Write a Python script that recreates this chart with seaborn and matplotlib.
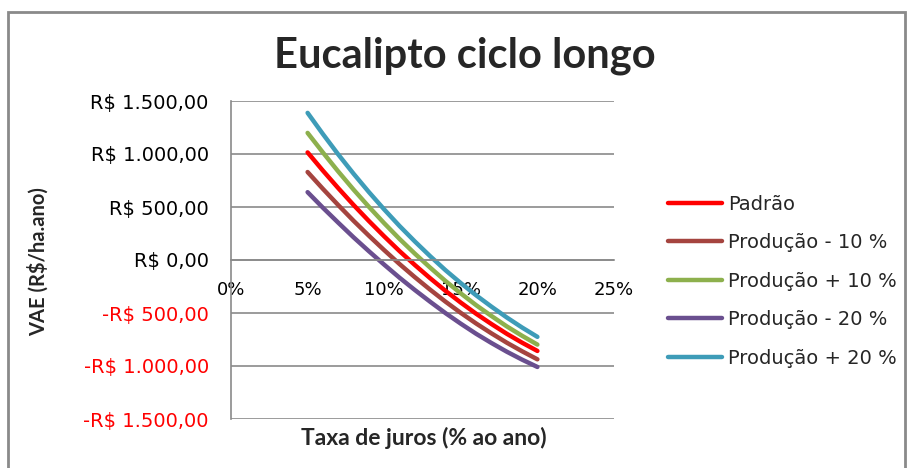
import matplotlib
matplotlib.use("Agg")
import matplotlib.pyplot as plt
from matplotlib.patches import Rectangle
from matplotlib.ticker import FuncFormatter, MultipleLocator
import pandas as pd
import seaborn as sns

# Interest rate (% per year) and annual equivalent value (R$/ha.ano) per scenario
taxa = [5, 6, 7, 8, 9, 10, 11, 12, 13, 14, 15, 16, 17, 18, 19, 20]
padrao = [1015, 843, 678, 519, 368, 223, 84, -47, -172, -291, -402, -507, -604, -696, -780, -858]
prod_menos_10 = [830, 671, 518, 370, 229, 93, -38, -162, -280, -393, -499, -599, -692, -780, -861, -937]
prod_mais_10 = [1199, 1014, 835, 664, 502, 347, 199, 60, -72, -198, -315, -426, -528, -626, -715, -798]
prod_menos_20 = [640, 493, 352, 214, 83, -44, -167, -283, -394, -501, -601, -696, -783, -865, -940, -1009]
prod_mais_20 = [1388, 1188, 996, 814, 641, 477, 321, 175, 36, -96, -218, -333, -440, -542, -637, -725]

cenarios = ["Padrão", "Produção - 10 %", "Produção + 10 %", "Produção - 20 %", "Produção + 20 %"]
series = [padrao, prod_menos_10, prod_mais_10, prod_menos_20, prod_mais_20]
cores = ["#FF0000", "#A5443F", "#8DB04D", "#6A4F8F", "#3E9CB8"]

df = pd.concat(
    [pd.DataFrame({"taxa": taxa, "vae": vals, "cenario": nome}) for nome, vals in zip(cenarios, series)],
    ignore_index=True,
)

sns.set_style("white")
plt.rcParams["font.family"] = ["DejaVu Sans"]
titulo_fonte = ["Lato", "DejaVu Sans"]

fig = plt.figure(figsize=(9.1, 4.68), dpi=100)
ax = fig.add_axes([231 / 910, 1 - 419 / 468, (614 - 231) / 910, (419 - 101) / 468])

sns.lineplot(data=df, x="taxa", y="vae", hue="cenario", hue_order=cenarios,
             palette=cores, linewidth=3.2, ax=ax, legend=True)

ax.set_xlim(0, 25)
ax.set_ylim(-1500, 1500)
ax.xaxis.set_major_locator(MultipleLocator(5))
ax.yaxis.set_major_locator(MultipleLocator(500))
ax.xaxis.set_major_formatter(FuncFormatter(lambda v, p: f"{int(round(v))}%"))


def brl(v, p):
    s = f"{abs(v):,.2f}".replace(",", "X").replace(".", ",").replace("X", ".")
    return ("-R$ " if v < 0 else "R$ ") + s


ax.yaxis.set_major_formatter(FuncFormatter(brl))
ax.grid(axis="y", color="#8A8A8A", linewidth=1.2)
ax.grid(axis="x", visible=False)

for side in ["top", "right"]:
    ax.spines[side].set_visible(False)
ax.spines["left"].set_color("#8A8A8A")
ax.spines["left"].set_linewidth(1.2)
ax.spines["bottom"].set_position(("data", 0))
ax.spines["bottom"].set_color("#8A8A8A")
ax.spines["bottom"].set_linewidth(1.2)

ax.tick_params(axis="both", length=0, colors="black")
ax.tick_params(axis="y", pad=16, labelsize=14)
ax.tick_params(axis="x", pad=15, labelsize=13)
for lbl, val in zip(ax.get_yticklabels(), ax.get_yticks()):
    if val < 0:
        lbl.set_color("#FF0000")

ax.set_xlabel("")
ax.set_ylabel("")
fig.text(424 / 910, 1 - 438 / 468, "Taxa de juros (% ao ano)", ha="center", va="center",
         fontsize=16.5, fontweight="bold", family=titulo_fonte)
fig.text(38 / 910, 1 - 262 / 468, "VAE (R$/ha.ano)", ha="center", va="center",
         rotation=90, fontsize=14.5, fontweight="bold", family=titulo_fonte)
fig.text(465 / 910, 1 - 56 / 468, "Eucalipto ciclo longo", ha="center", va="center",
         fontsize=30, fontweight="bold", family=titulo_fonte)

handles, labels = ax.get_legend_handles_labels()
ax.legend_.remove()
fig.legend(handles, labels, loc="upper left", bbox_to_anchor=(660 / 910, 1 - 187 / 468),
           frameon=False, fontsize=14, handlelength=2.8, handletextpad=0.3,
           labelspacing=1.0, borderaxespad=0)

fig.patches.append(Rectangle((8 / 910, -0.1), (905 - 8) / 910, 1.1 - 12 / 468,
                             transform=fig.transFigure, fill=False,
                             edgecolor="#8A8A8A", linewidth=2))

fig.savefig("out.png", dpi=100)
